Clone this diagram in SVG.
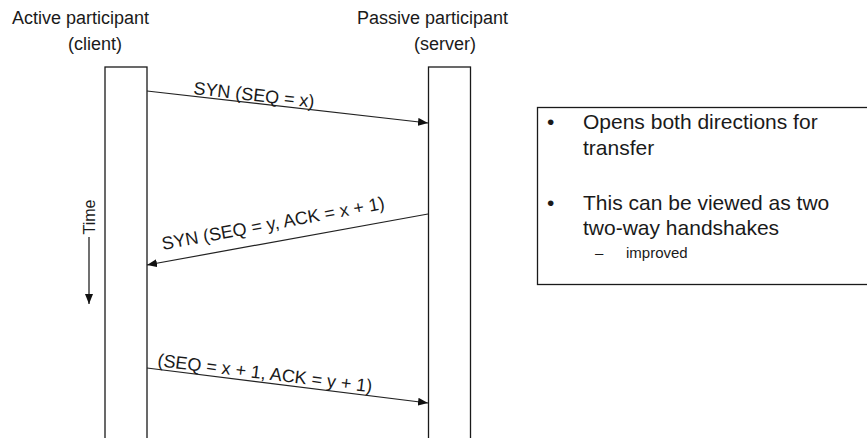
<svg xmlns="http://www.w3.org/2000/svg" width="867" height="438" viewBox="0 0 867 438">
  <style>
    .lbl { font-family: "Liberation Sans", Arial, sans-serif; font-size: 18px; fill: #1a1a1a; }
    .box-txt { font-family: "Liberation Sans", Arial, sans-serif; font-size: 21px; fill: #1a1a1a; }
    .sub-txt { font-family: "Liberation Sans", Arial, sans-serif; font-size: 15px; fill: #1a1a1a; }
    .life { fill: #ffffff; stroke: #1a1a1a; stroke-width: 1.3; }
    .msg { fill: none; stroke: #222222; stroke-width: 1.2; marker-end: url(#head); }
  </style>
  <defs>
    <marker id="head" viewBox="0 0 10 8" refX="10" refY="4" markerWidth="10" markerHeight="8" markerUnits="userSpaceOnUse" orient="auto">
      <path d="M0,0 L10,4 L0,8 Z" fill="#111111"/>
    </marker>
  </defs>
  <rect width="867" height="438" fill="#ffffff"/>

  <!-- participant headings -->
  <g id="client">
    <text class="lbl" x="12" y="24">Active participant</text>
    <text class="lbl" x="68" y="50">(client)</text>
    <rect class="life" x="105" y="67" width="42" height="380"/>
  </g>
  <g id="server">
    <text class="lbl" x="357" y="24">Passive participant</text>
    <text class="lbl" x="414" y="50">(server)</text>
    <rect class="life" x="428.5" y="67" width="42" height="380"/>
  </g>

  <!-- time axis -->
  <g id="time-axis">
    <text class="lbl" style="font-size:16px" text-anchor="middle" transform="translate(95,217) rotate(-90)">Time</text>
    <line x1="89" y1="237" x2="89" y2="304" stroke="#111111" stroke-width="1.2" marker-end="url(#head)"/>
  </g>

  <!-- messages -->
  <g id="connectors">
    <line class="msg" x1="147" y1="91" x2="428" y2="123"/>
    <line class="msg" x1="428" y1="214" x2="147" y2="265"/>
    <line class="msg" x1="147" y1="368" x2="428" y2="403"/>
  </g>
  <g id="message-labels">
    <text class="lbl" transform="translate(193,94) rotate(6.5)">SYN (SEQ = x)</text>
    <text class="lbl" transform="translate(163,250) rotate(-10.5)">SYN (SEQ = y, ACK = x + 1)</text>
    <text class="lbl" transform="translate(157,366) rotate(7)">(SEQ = x + 1, ACK = y + 1)</text>
  </g>

  <!-- notes box -->
  <g id="notes">
    <rect x="537.5" y="107.5" width="340" height="177" fill="#ffffff" stroke="#1a1a1a" stroke-width="1.3"/>
    <text class="box-txt" x="547" y="129">•</text>
    <text class="box-txt" x="583" y="129">Opens both directions for</text>
    <text class="box-txt" x="583" y="155">transfer</text>
    <text class="box-txt" x="547" y="210">•</text>
    <text class="box-txt" x="583" y="210">This can be viewed as two</text>
    <text class="box-txt" x="583" y="235">two-way handshakes</text>
    <text class="sub-txt" x="595" y="258">–</text>
    <text class="sub-txt" x="626" y="258">improved</text>
  </g>
</svg>
